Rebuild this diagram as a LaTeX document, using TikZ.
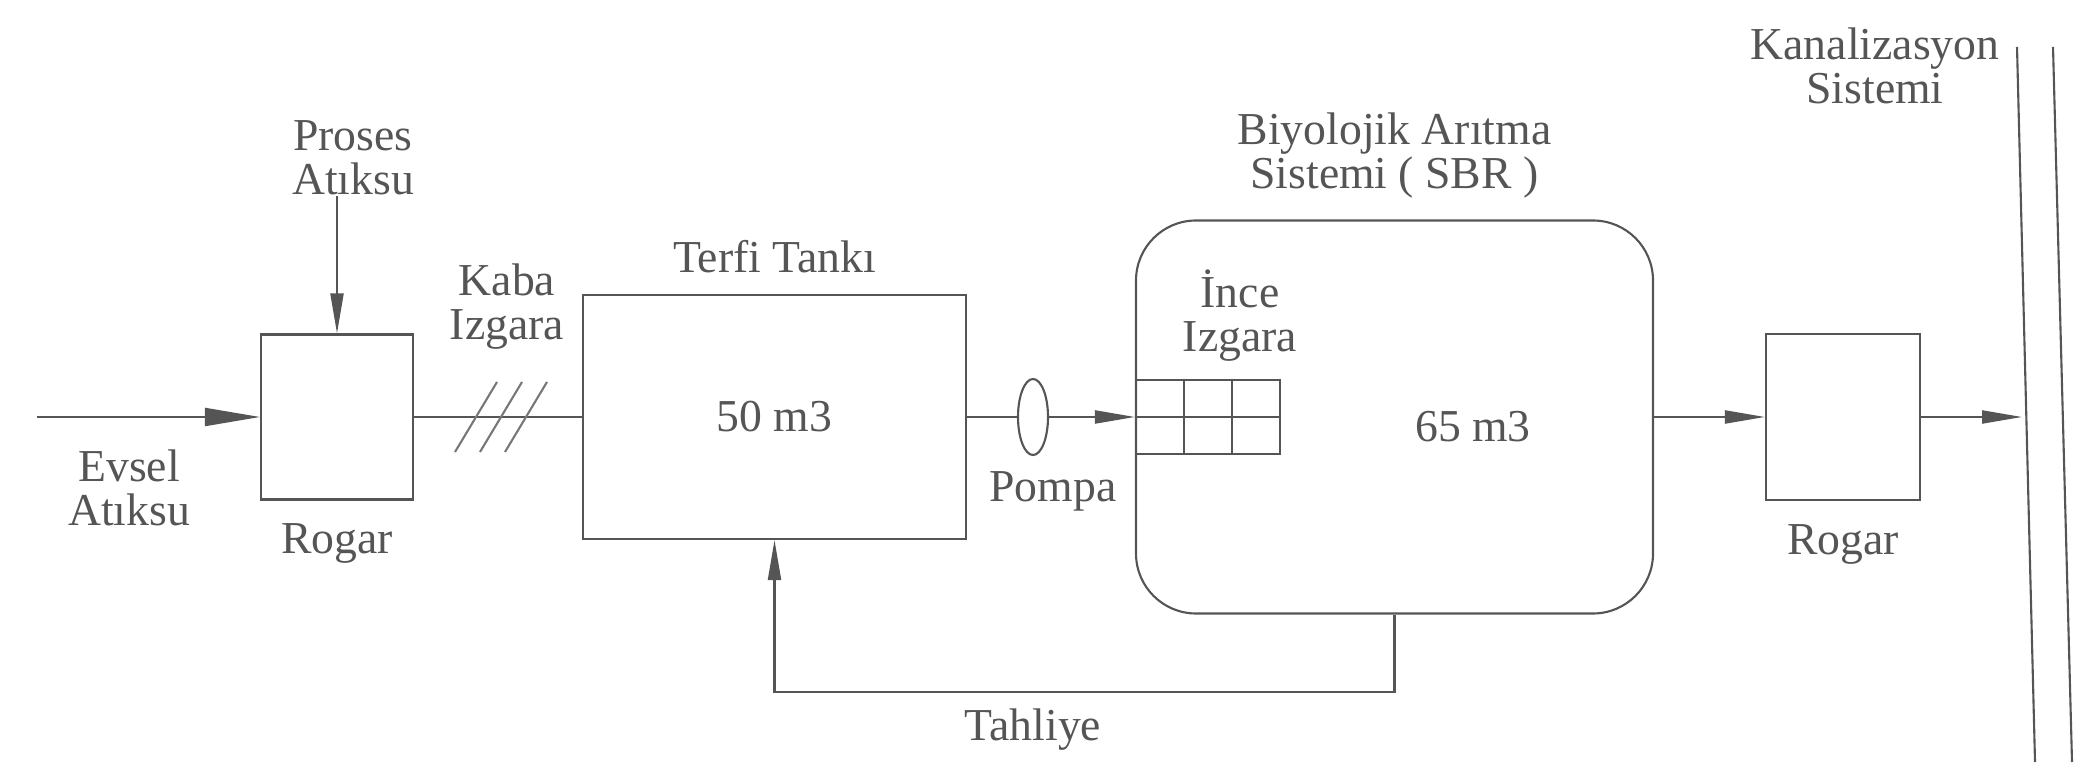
\documentclass[tikz,border=0pt]{standalone}
\usepackage{fontspec}
\setmainfont{Liberation Serif}
\usetikzlibrary{arrows.meta,positioning,calc,shapes.geometric}
\definecolor{ink}{RGB}{85,85,85}

\begin{document}
\begin{tikzpicture}[
    font=\fontsize{13}{12.5}\selectfont,
    line width=0.6pt, draw=ink, text=ink,
    tank/.style={draw=ink, inner sep=0pt},
    lbl/.style={align=center, inner sep=0pt, text=ink},
    flow/.style={-{Triangle[length=4mm,width=1.3mm]}},
    bigflow/.style={-{Triangle[length=5.5mm,width=1.8mm]}}]
  \useasboundingbox (0,0) rectangle (20.9,7.62);
  % Tanks
  \node[tank, minimum width=1.52cm, minimum height=1.65cm] (rogarA) at (3.37,3.45) {};
  \node[tank, minimum width=3.83cm, minimum height=2.44cm] (terfi) at (7.745,3.45) {50 m3};
  \node[tank, ellipse, minimum width=0.3cm, minimum height=0.76cm] (pompa) at (10.33,3.45) {};
  \node[tank, rounded corners=0.6cm, minimum width=5.17cm, minimum height=3.93cm] (sbr) at (13.945,3.45) {};
  \node[tank, minimum width=1.54cm, minimum height=1.66cm] (rogarB) at (18.43,3.45) {};
  \node[tank, anchor=west, minimum width=1.44cm, minimum height=0.74cm] (ince) at (sbr.west) {};
  \foreach \t in {1,2}
    \draw ($(ince.north west)!\t/3!(ince.north east)$) -- ($(ince.south west)!\t/3!(ince.south east)$);
  \draw (ince.west) -- (ince.east);
  % Labels
  \node[lbl] (evsel) at (1.29,2.74) {Evsel\\Atıksu};
  \node[lbl] (proses) at (3.53,6.04) {Proses\\Atıksu};
  \node[lbl, below=0.22cm of rogarA] (rogarAlbl) {Rogar};
  \node[lbl] (kaba) at (5.07,4.55) {Kaba\\Izgara};
  \node[lbl, above=0.2cm of terfi] (terfilbl) {Terfi Tankı};
  \node[lbl] (pompalbl) at (10.53,2.71) {Pompa};
  \node[lbl, above=0.2cm of sbr] (sbrlbl) {Biyolojik Arıtma\\Sistemi ( SBR )};
  \node[lbl] (incelbl) at (12.4,4.46) {İnce\\Izgara};
  \node[lbl] (hacim) at (14.73,3.35) {65 m3};
  \node[lbl, below=0.22cm of rogarB] (rogarBlbl) {Rogar};
  \node[lbl] (kanallbl) at (18.75,6.96) {Kanalizasyon\\Sistemi};
  \node[lbl] (tahliye) at (10.33,0.32) {Tahliye};
  % Sewer
  \draw (20.17,7.15) -- (20.35,0);
  \draw (20.53,7.15) -- (20.72,0);
  \coordinate (evselin) at (0.37,3.45);
  \coordinate (kanal) at (20.22,3.45);
  % Flow lines
  \draw[bigflow] (evselin) -- (rogarA.west);
  \draw[flow] (proses.south -| rogarA.north) -- (rogarA.north);
  \draw (rogarA.east) -- (terfi.west);
  \coordinate (kabaiz) at (5.01,3.45);
  \foreach \dx in {-0.25,0,0.25}
    \draw[ink!80] ([shift={(\dx-0.21,-0.35)}]kabaiz) -- ++(0.42,0.7);
  \draw (terfi.east) -- (pompa.west);
  \draw[flow] (pompa.east) -- (sbr.west);
  \draw[flow] (sbr.east) -- (rogarB.west);
  \draw[flow] (rogarB.east) -- (kanal);
  \draw[flow] (sbr.south) -- ++(0,-0.77) -| (terfi.south);
\end{tikzpicture}
\end{document}
